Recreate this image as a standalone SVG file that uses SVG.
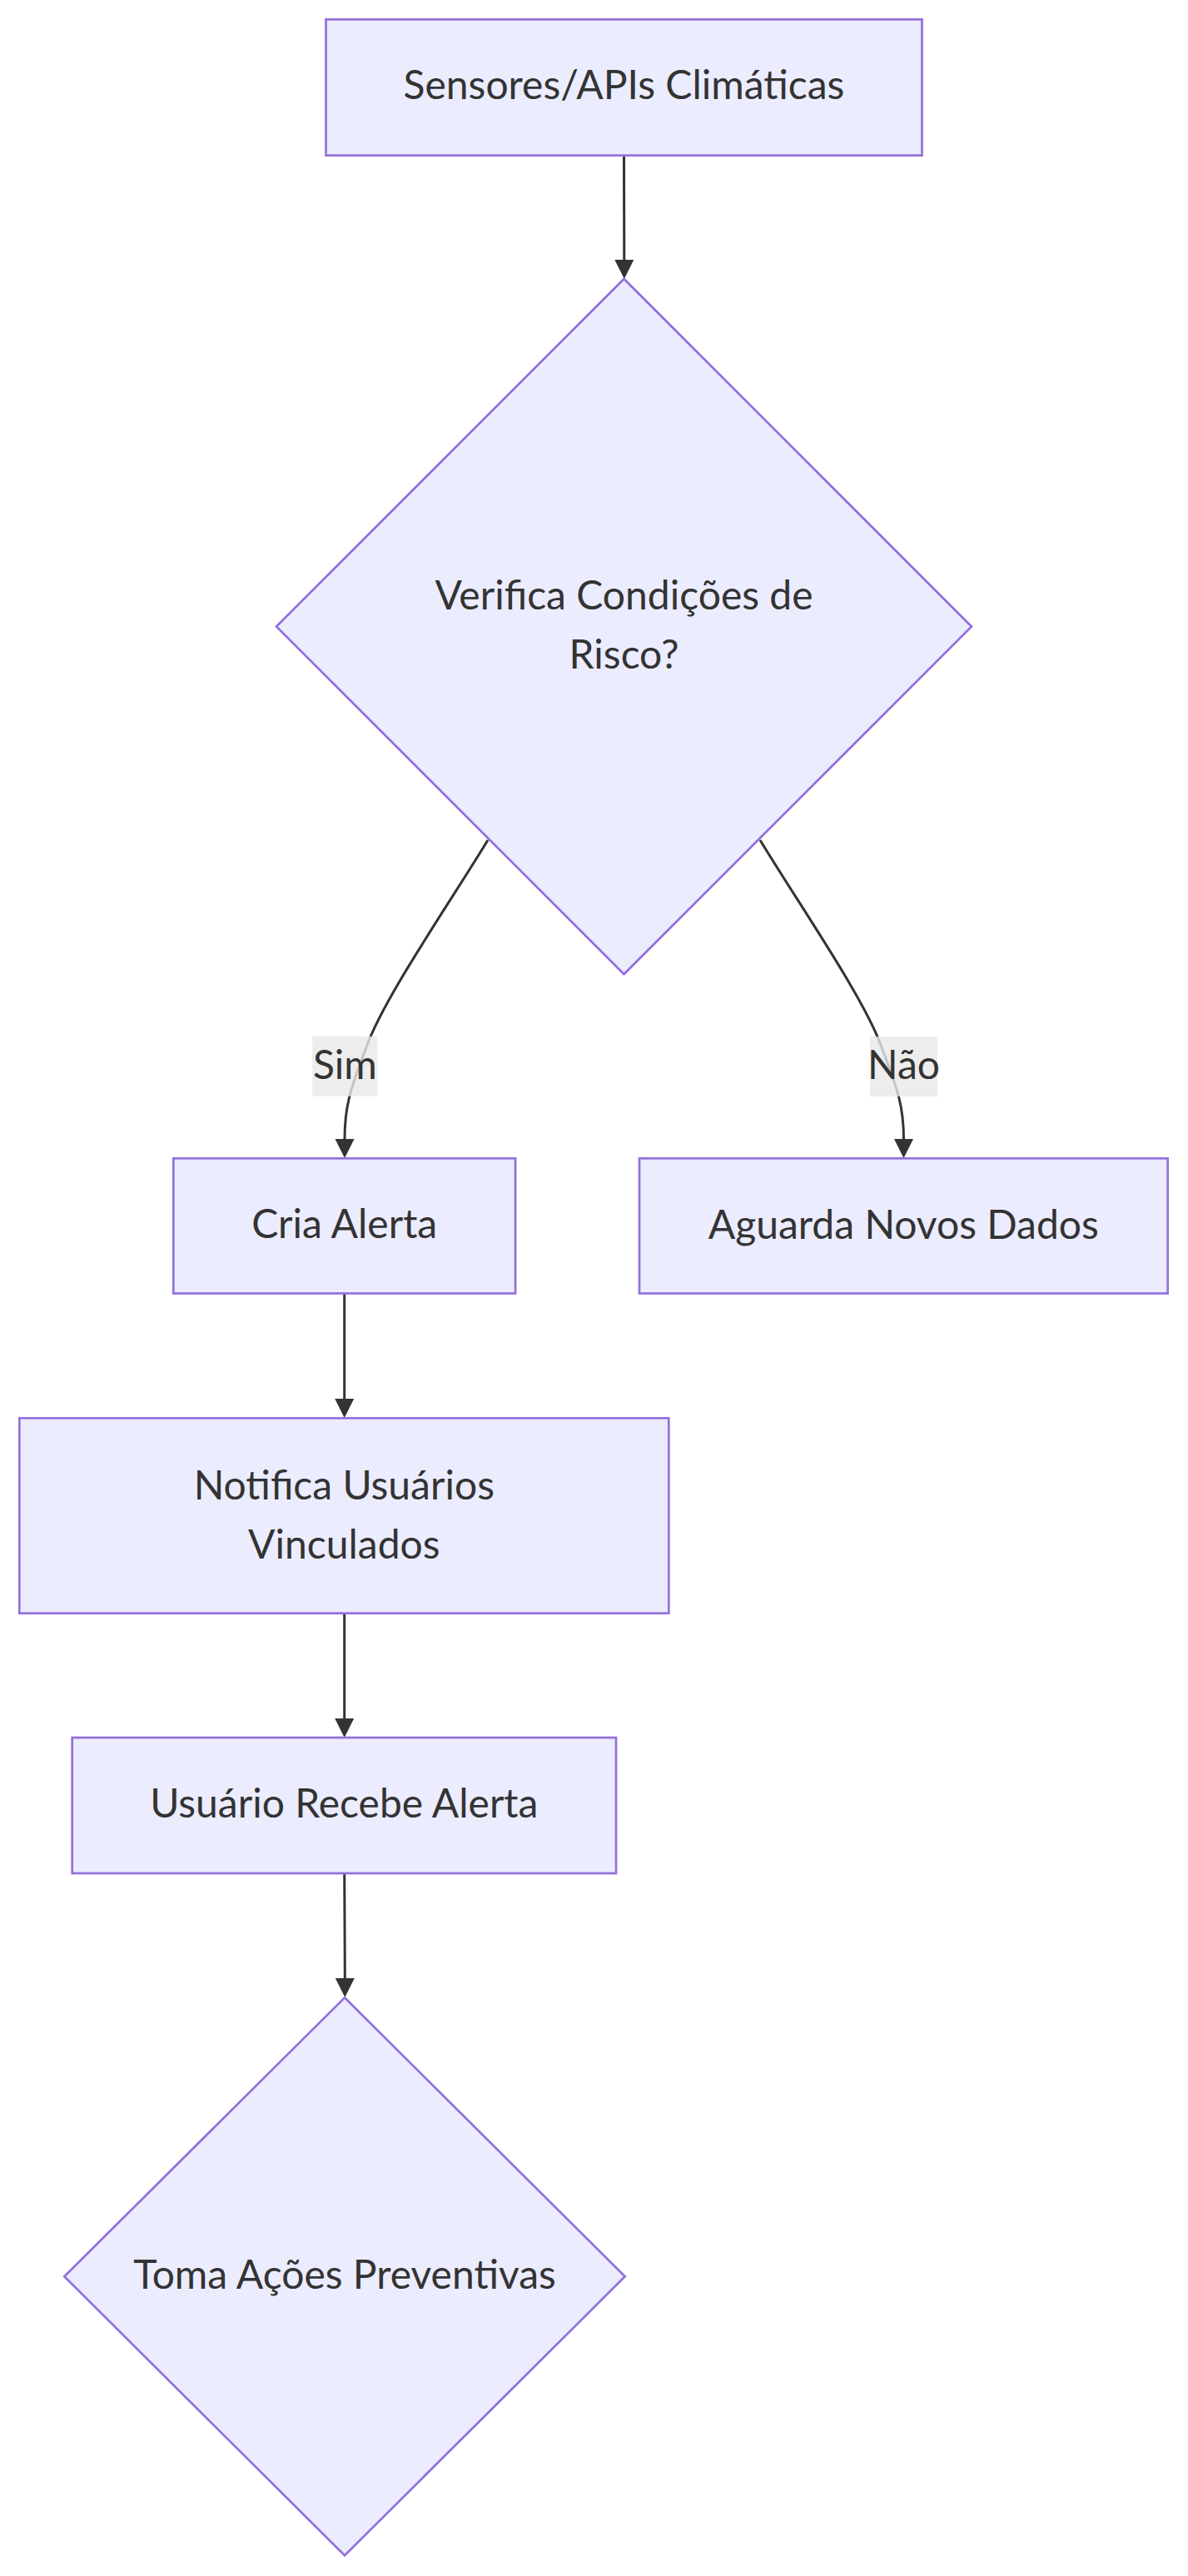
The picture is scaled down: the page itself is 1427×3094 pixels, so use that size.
<svg xmlns="http://www.w3.org/2000/svg" width="1427" height="3094" viewBox="0 0 1427 3094">
<defs>
<style>
.node rect,.node polygon{fill:#ECECFF;stroke:#9370DB;stroke-width:2.7}
.lbl{font-family:Lato,"Open Sans","Liberation Sans",sans-serif;font-size:48px;fill:#333333;text-anchor:middle}
.edge{fill:none;stroke:#333333;stroke-width:3}
.elbg{fill:#e8e8e8;fill-opacity:0.8}
</style>
<marker id="arrow" viewBox="0 0 10 10" refX="0" refY="5" markerUnits="userSpaceOnUse" markerWidth="23" markerHeight="24" orient="auto">
<path d="M0,0 L10,5 L0,10 z" fill="#333333"/>
</marker>
</defs>
<rect width="1427" height="3094" fill="#ffffff"/>
<g id="edges">
<path class="edge" d="M749.5,187 L749.8,312" marker-end="url(#arrow)"/>
<path class="edge" d="M586,1009 C540,1085 460,1200 440,1258 C420,1310 414,1330 414,1368" marker-end="url(#arrow)"/>
<path class="edge" d="M913,1009 C959,1085 1039,1200 1059,1258 C1079,1310 1085.5,1330 1085.5,1368" marker-end="url(#arrow)"/>
<path class="edge" d="M413.7,1554 L413.7,1680" marker-end="url(#arrow)"/>
<path class="edge" d="M413.7,1938 L413.7,2064" marker-end="url(#arrow)"/>
<path class="edge" d="M413.7,2250 C413.7,2320 414.3,2340 414.3,2376" marker-end="url(#arrow)"/>
</g>
<g id="edge-labels">
<g id="label-sim">
<rect class="elbg" x="375.3" y="1244.7" width="78" height="72"/>
<text class="lbl" x="414.3" y="1295.7">Sim</text>
</g>
<g id="label-nao">
<rect class="elbg" x="1045" y="1245" width="81" height="72"/>
<text class="lbl" x="1085.5" y="1295.5">Não</text>
</g>
</g>
<g id="node-sensores" class="node">
<rect x="391.5" y="23.3" width="716" height="163.4"/>
<text class="lbl" x="749.5" y="119.3">Sensores/APIs Climáticas</text>
</g>
<g id="node-verifica" class="node">
<polygon points="749.5,335 1167,752.5 749.5,1170 332,752.5"/>
<text class="lbl" x="749.5" y="731.7">Verifica Condições de</text>
<text class="lbl" x="749.5" y="803.3">Risco?</text>
</g>
<g id="node-cria" class="node">
<rect x="208.3" y="1391.3" width="410.8" height="162.2"/>
<text class="lbl" x="413.7" y="1487">Cria Alerta</text>
</g>
<g id="node-aguarda" class="node">
<rect x="768" y="1391.3" width="634.7" height="162.2"/>
<text class="lbl" x="1085.3" y="1487.5">Aguarda Novos Dados</text>
</g>
<g id="node-notifica" class="node">
<rect x="23.3" y="1703.3" width="780" height="234.4"/>
<text class="lbl" x="413.3" y="1800.7">Notifica Usuários</text>
<text class="lbl" x="413.3" y="1871.7">Vinculados</text>
</g>
<g id="node-usuario" class="node">
<rect x="86.7" y="2087" width="653.3" height="163"/>
<text class="lbl" x="413.3" y="2183.3">Usuário Recebe Alerta</text>
</g>
<g id="node-toma" class="node">
<polygon points="414,2399.3 750.7,2734.3 414,3069.3 77.3,2734.3"/>
<text class="lbl" x="414" y="2749.3">Toma Ações Preventivas</text>
</g>
</svg>
